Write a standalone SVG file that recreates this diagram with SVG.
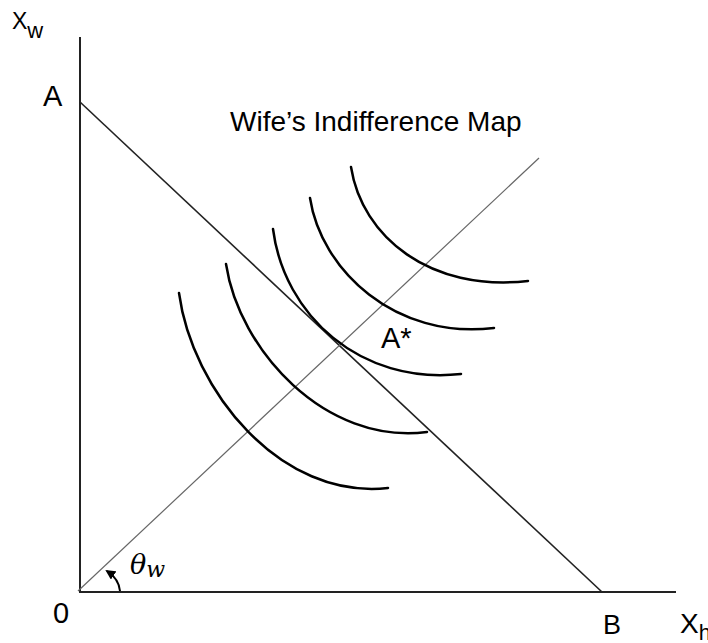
<svg xmlns="http://www.w3.org/2000/svg" width="708" height="643" viewBox="0 0 708 643">
<style>
.lbl{font-family:"Liberation Sans",Arial,sans-serif;fill:#000}
.ic{fill:none;stroke:#000;stroke-width:2.5;stroke-linecap:round}
</style>
<defs>
<marker id="ah" viewBox="0 0 10 10" refX="8" refY="5" markerWidth="5" markerHeight="5" orient="auto" markerUnits="strokeWidth">
<path d="M0,0 L10,5 L0,10 Z" fill="#000"/>
</marker>
</defs>
<rect width="708" height="643" fill="#fff"/>
<g id="connectors">
<line id="y-axis" x1="80" y1="37" x2="80" y2="592" stroke="#222" stroke-width="2"/>
<line id="x-axis" x1="79" y1="592" x2="676" y2="592" stroke="#222" stroke-width="2"/>
<line id="budget" x1="80" y1="102" x2="602" y2="592" stroke="#222" stroke-width="1.6"/>
<line id="ray" x1="78" y1="591" x2="539" y2="158" stroke="#666" stroke-width="1.2"/>
<path id="angle-arrow" d="M120,591 Q119,579 107,571" fill="none" stroke="#000" stroke-width="2" marker-end="url(#ah)"/>
</g>
<g id="curves">
<path class="ic" d="M179,293 C192,390 280,500 388,488"/>
<path class="ic" d="M226,264 C239,350 325,445 427,432"/>
<path class="ic" d="M273,229 C284,315 360,385 461,374"/>
<path class="ic" d="M310,198 C321,270 395,340 494,328"/>
<path class="ic" d="M351,167 C362,237 430,292 528,281"/>
</g>
<g id="labels">
<text class="lbl" x="12" y="29" font-size="23">X<tspan font-size="22" dy="9">w</tspan></text>
<text class="lbl" x="43" y="106" font-size="29">A</text>
<text class="lbl" x="230" y="131" font-size="28">Wife’s Indifference Map</text>
<text class="lbl" x="381" y="348" font-size="29">A*</text>
<text class="lbl" x="53" y="623" font-size="29">0</text>
<text class="lbl" x="603" y="634" font-size="27">B</text>
<text class="lbl" x="680" y="633" font-size="28">X<tspan font-size="22" dy="7">h</tspan></text>
<text x="130" y="574" font-family="'DejaVu Serif','Liberation Serif',serif" font-style="italic" font-size="27">θ<tspan font-size="22" dy="3">w</tspan></text>
</g>
</svg>
